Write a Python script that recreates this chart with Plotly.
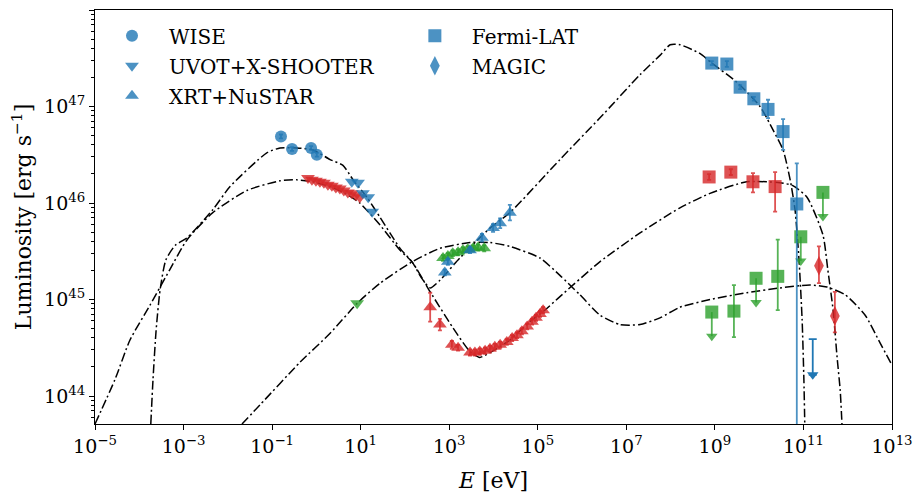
import numpy as np
import plotly.graph_objects as go

# ---------------- data (log10 values) ----------------
# Models (dash-dot curves): log10(E/eV), log10(L/erg s^-1)
model_high_logE = [-3.74, -3.69, -3.62, -3.53, -3.40, -3.19, -2.92, -2.34, -1.95, -1.12, -0.82, -0.44,
                   -0.08, 0.31, 0.60, 0.83, 1.14, 1.44, 1.66, 1.89, 2.16, 2.38, 2.57, 2.79, 3.24, 3.92,
                   4.37, 5.50, 6.40, 7.31, 7.76, 7.99, 8.21, 8.66, 8.93, 9.50, 10.02, 10.31, 10.54,
                   10.70, 10.81, 10.90, 10.97, 11.01, 11.03]
model_high_logL = [43.71, 44.17, 44.68, 45.10, 45.41, 45.56, 45.64, 45.93, 46.17, 46.52, 46.57, 46.57,
                   46.55, 46.45, 46.39, 46.24, 46.06, 45.85, 45.69, 45.53, 45.39, 45.22, 45.12, 45.20,
                   45.43, 45.74, 45.90, 46.45, 46.88, 47.33, 47.53, 47.64, 47.64, 47.55, 47.45, 47.25,
                   47.00, 46.76, 46.55, 46.24, 45.93, 45.41, 44.79, 44.17, 43.71]

model_low_logE = [-5.00, -4.55, -4.21, -3.76, -3.31, -2.92, -2.34, -1.57, -0.82, -0.44, -0.08, 0.31,
                  0.65, 0.98, 1.44, 1.89, 2.16, 2.57, 3.08, 3.47, 3.69, 3.92, 4.37, 4.82, 5.16, 5.50,
                  6.40, 7.31, 8.21, 8.89, 9.72, 10.47, 10.76, 11.08, 11.44, 11.55, 11.67, 11.76,
                  11.83, 11.87]
model_low_logL = [43.71, 44.17, 44.58, 44.94, 45.31, 45.62, 45.90, 46.13, 46.23, 46.24, 46.22, 46.17,
                  46.10, 46.00, 45.77, 45.51, 45.39, 45.08, 44.71, 44.46, 44.40, 44.45, 44.58, 44.77,
                  44.89, 45.03, 45.39, 45.69, 45.95, 46.10, 46.22, 46.21, 46.18, 46.06, 45.67, 45.31,
                  44.89, 44.40, 44.06, 43.71]

model_green_logE = [-1.68, -1.27, -0.37, 0.31, 0.92, 1.44, 2.16, 2.79, 3.47, 3.92, 4.37, 5.05, 5.50,
                    5.95, 6.40, 6.86, 7.31, 7.76, 8.21, 8.89, 9.72, 10.47, 11.15, 11.53, 11.94,
                    12.39, 12.73, 13.00]
model_green_logL = [43.71, 43.91, 44.35, 44.65, 44.96, 45.17, 45.39, 45.53, 45.59, 45.59, 45.55, 45.43,
                    45.25, 45.05, 44.84, 44.74, 44.74, 44.81, 44.92, 45.00, 45.07, 45.12, 45.15,
                    45.13, 45.05, 44.84, 44.55, 44.32]

# WISE
wise_logE = [-0.80, -0.55, -0.12, 0.01]
wise_logL = [46.69, 46.56, 46.57, 46.50]

# UVOT + X-SHOOTER
uvot_blue_logE = [0.80, 0.94, 1.05, 1.17, 1.26]
uvot_blue_logL = [46.22, 46.21, 46.10, 46.06, 45.91]
uvot_red_logE = [-0.19, -0.10, -0.01, 0.08, 0.17, 0.26, 0.35, 0.44, 0.53, 0.62, 0.71, 0.80, 0.89, 0.98]
uvot_red_logL = [46.26, 46.24, 46.23, 46.22, 46.21, 46.19, 46.18, 46.16, 46.15, 46.13, 46.11, 46.10,
                 46.08, 46.06]
uvot_green_logE = [0.92]
uvot_green_logL = [44.96]

# XRT + NuSTAR
xrt_blue_logE = [2.90, 2.97, 3.47, 3.74, 3.99, 4.15, 4.37]
xrt_blue_logL = [45.28, 45.39, 45.51, 45.64, 45.74, 45.79, 45.90]
xrt_blue_err = [0.03, 0.03, 0.03, 0.04, 0.04, 0.05, 0.08]
xrt_green_logE = [2.86, 2.97, 3.08, 3.20, 3.31, 3.42, 3.54, 3.65, 3.79]
xrt_green_logL = [45.43, 45.45, 45.48, 45.49, 45.51, 45.52, 45.53, 45.54, 45.53]
xrt_red_logE = [2.57, 2.79, 3.06, 3.20, 3.47, 3.58, 3.69, 3.81, 3.92, 4.03, 4.15, 4.30, 4.42, 4.53,
                4.64, 4.76, 4.87, 4.96, 5.05, 5.12]
xrt_red_logL = [44.92, 44.74, 44.53, 44.50, 44.45, 44.45, 44.46, 44.47, 44.49, 44.51, 44.53, 44.56,
                44.60, 44.63, 44.67, 44.72, 44.77, 44.81, 44.85, 44.89]
xrt_red_err = [0.15, 0.06, 0.04, 0.03, 0.03, 0.03, 0.03, 0.03, 0.03, 0.03, 0.03, 0.03, 0.03, 0.03,
               0.03, 0.03, 0.03, 0.03, 0.03, 0.03]

# Fermi-LAT
fermi_blue_logE = [8.93, 9.27, 9.57, 9.88, 10.20, 10.54, 10.85]
fermi_blue_logL = [47.45, 47.44, 47.20, 47.08, 46.97, 46.74, 45.99]
fermi_blue_up = [47.47, 47.47, 47.22, 47.10, 47.07, 46.87, 46.41]
fermi_blue_lo = [47.43, 47.41, 47.18, 47.06, 46.88, 46.55, 42.00]
fermi_red_logE = [8.87, 9.36, 9.86, 10.36]
fermi_red_logL = [46.27, 46.32, 46.22, 46.17]
fermi_red_up = [46.30, 46.35, 46.31, 46.32]
fermi_red_lo = [46.24, 46.29, 46.11, 45.91]
fermi_green_logE = [9.43, 10.42]
fermi_green_logL = [44.88, 45.24]
fermi_green_up = [45.15, 45.62]
fermi_green_lo = [44.61, 44.89]
fermi_green_ul_logE = [8.93, 9.93, 10.94, 11.44]
fermi_green_ul_logL = [44.87, 45.22, 45.65, 46.11]

# MAGIC
magic_red_logE = [11.35, 11.71]
magic_red_logL = [45.35, 44.83]
magic_red_up = [45.55, 45.08]
magic_red_lo = [45.17, 44.66]
magic_blue_ul_logE = [11.21]
magic_blue_ul_logL = [44.59]

x_tick_exps = [-5, -3, -1, 1, 3, 5, 7, 9, 11, 13]
y_tick_exps = [44, 45, 46, 47, 48]

# ---------------- styling ----------------
BLUE = "rgba(31,119,180,0.8)"
RED = "rgba(214,39,40,0.8)"
GREEN = "rgba(44,160,44,0.8)"
FONT = "DejaVu Serif"
UL_LEN = 0.25  # arrow length in decades for upper limits


def p10(a):
    return np.power(10.0, np.asarray(a, dtype=float))


fig = go.Figure()

dash = "9px,3px,2px,3px"
for lx, ly in [(model_high_logE, model_high_logL), (model_low_logE, model_low_logL),
               (model_green_logE, model_green_logL)]:
    fig.add_trace(go.Scatter(x=p10(lx), y=p10(ly), mode="lines", showlegend=False,
                             line=dict(color="black", width=1.5, dash=dash, shape="spline",
                                       smoothing=0.6), hoverinfo="skip"))


def pts(lx, ly, color, symbol, size, name=None, legend="legend", up=None, lo=None, sym_err=None,
        group=None):
    y = p10(ly)
    err = None
    if up is not None:
        err = dict(type="data", symmetric=False, array=p10(up) - y, arrayminus=y - p10(lo),
                   color=color, thickness=1.8, width=2)
    elif sym_err is not None:
        e = np.asarray(sym_err)
        err = dict(type="data", symmetric=False, array=y * (10 ** e - 1), arrayminus=y * (1 - 10 ** -e),
                   color=color, thickness=1.8, width=2)
    fig.add_trace(go.Scatter(x=p10(lx), y=y, mode="markers", name=name or "",
                             showlegend=name is not None, legend=legend, legendgroup=group,
                             marker=dict(color=color, symbol=symbol, size=size, line=dict(width=0)),
                             error_y=err))


def ul(lx, ly, color, symbol, size, length=UL_LEN, show_marker=True):
    y = p10(ly)
    ylo = y * 10 ** (-length)
    fig.add_trace(go.Scatter(x=p10(lx), y=y, mode="markers", showlegend=False,
                             marker=dict(color=color, symbol=symbol, size=size if show_marker else 1,
                                         opacity=1 if show_marker else 0, line=dict(width=0)),
                             error_y=dict(type="data", symmetric=False, array=[0] * len(y),
                                          arrayminus=y - ylo, color=color, thickness=1.8,
                                          width=0 if show_marker else 4)))
    fig.add_trace(go.Scatter(x=p10(lx), y=ylo, mode="markers", showlegend=False,
                             marker=dict(color=color, symbol="triangle-down", size=10,
                                         line=dict(width=0))))


# red / green series first
pts(uvot_red_logE, uvot_red_logL, RED, "triangle-down", 12)
pts(xrt_red_logE, xrt_red_logL, RED, "triangle-up", 12, sym_err=xrt_red_err)
pts(fermi_red_logE, fermi_red_logL, RED, "square", 13, up=fermi_red_up, lo=fermi_red_lo)
pts(magic_red_logE, magic_red_logL, RED, "diamond-tall", 14, up=magic_red_up, lo=magic_red_lo)
pts(uvot_green_logE, uvot_green_logL, GREEN, "triangle-down", 12)
pts(xrt_green_logE, xrt_green_logL, GREEN, "triangle-up", 12, sym_err=[0.03] * len(xrt_green_logE))
pts(fermi_green_logE, fermi_green_logL, GREEN, "square", 13, up=fermi_green_up, lo=fermi_green_lo)
ul(fermi_green_ul_logE, fermi_green_ul_logL, GREEN, "square", 13)
ul(magic_blue_ul_logE, magic_blue_ul_logL, "rgba(31,119,180,1)", "diamond-tall", 13, length=0.37,
   show_marker=False)

# blue series with legend entries
pts(wise_logE, wise_logL, BLUE, "circle", 12, name="WISE", group="g1", sym_err=[0.02] * 4)
pts(uvot_blue_logE, uvot_blue_logL, BLUE, "triangle-down", 12, name="UVOT+X-SHOOTER", group="g2")
pts(xrt_blue_logE, xrt_blue_logL, BLUE, "triangle-up", 12, name="XRT+NuSTAR", group="g3",
    sym_err=xrt_blue_err)
pts(fermi_blue_logE, fermi_blue_logL, BLUE, "square", 13, name="Fermi-LAT", legend="legend2",
    group="g4", up=fermi_blue_up, lo=fermi_blue_lo)
# MAGIC legend entry (blue diamond)
fig.add_trace(go.Scatter(x=[None], y=[None], mode="markers", name="MAGIC", legend="legend2",
                         legendgroup="g5", marker=dict(color=BLUE, symbol="diamond-tall", size=14)))

axis_common = dict(type="log", showline=True, linecolor="black", linewidth=1, mirror=True,
                   showgrid=False, zeroline=False, ticks="outside", tickcolor="black",
                   automargin=False,
                   tickfont=dict(family=FONT, size=19, color="black"))

fig.update_layout(
    width=914, height=499,
    margin=dict(l=95, r=22, t=10, b=75),
    paper_bgcolor="white", plot_bgcolor="white",
    font=dict(family=FONT, size=20, color="black"),
    xaxis=dict(axis_common, range=[-5, 13], tickvals=list(p10(x_tick_exps)),
               ticktext=[f"10<sup>{'−' if e < 0 else ''}{abs(e)}</sup>" for e in x_tick_exps],
               ticklen=5,
               title=dict(text="<i>E</i> [eV]", font=dict(family=FONT, size=22), standoff=16)),
    yaxis=dict(axis_common, range=[43.71, 48], tickvals=list(p10(y_tick_exps)),
               ticktext=[f"10<sup>{e}</sup>" for e in y_tick_exps], ticklen=5,
               minor=dict(tickvals=[k * 10.0 ** n for n in range(43, 48) for k in range(2, 10)],
                          ticks="outside", ticklen=3, tickcolor="black"),
               title=dict(text="Luminosity [erg s<sup>−1</sup>]", font=dict(family=FONT, size=22),
                          standoff=6)),
    legend=dict(x=0.0, y=0.985, xanchor="left", yanchor="top", bgcolor="rgba(0,0,0,0)",
                font=dict(family=FONT, size=20), tracegroupgap=1, traceorder="grouped",
                itemwidth=64),
    legend2=dict(x=0.38, y=0.985, xanchor="left", yanchor="top", bgcolor="rgba(0,0,0,0)",
                 font=dict(family=FONT, size=20), tracegroupgap=1, traceorder="grouped",
                 itemwidth=64),
)

fig.write_html("out.html", post_script="document.body.style.margin='0';",
               config={"displayModeBar": False})
